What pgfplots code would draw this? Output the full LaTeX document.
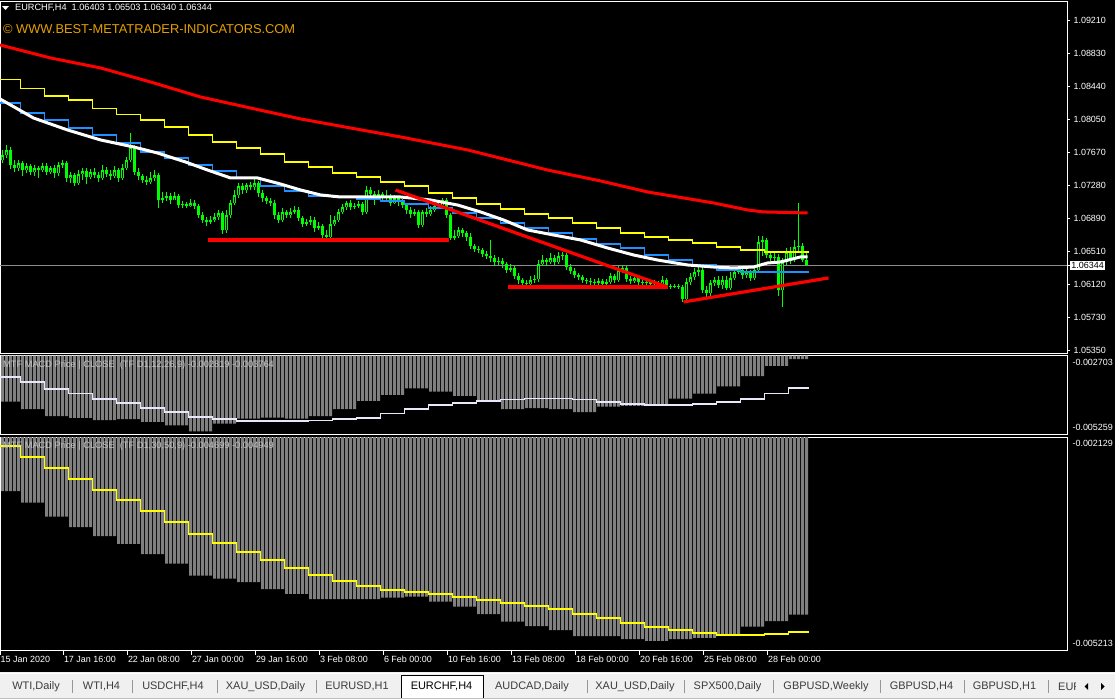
\documentclass[border=0pt]{standalone}
\usepackage{fontspec}
\setmainfont{Liberation Sans}
\usepackage{pgfplots}
\usepackage{pgfplotstable}
\pgfplotsset{compat=1.18}

\definecolor{mtgreen}{RGB}{0,255,0}
\definecolor{mtred}{RGB}{255,0,0}
\definecolor{mtyellow}{RGB}{255,255,0}
\definecolor{mtblue}{RGB}{30,144,255}
\definecolor{mtorange}{RGB}{230,160,0}
\definecolor{histgray}{RGB}{128,128,128}
\definecolor{sigwhite}{RGB}{232,232,250}
\definecolor{pricegray}{RGB}{140,140,140}
\definecolor{tabbg}{RGB}{240,240,240}
\definecolor{tabtext}{RGB}{60,60,60}
\definecolor{tabsep}{RGB}{150,150,150}
\definecolor{labelgray}{RGB}{195,195,195}

% H4 bars: open high low close, MACD(12,26,9) and MACD(30,50,9) histograms
\pgfplotstableread{
i o h l c m1 m2
0 1.07578 1.07696 1.07543 1.07637 -0.004204 -0.002911
1 1.07637 1.07754 1.07602 1.07696 -0.004204 -0.002911
2 1.07696 1.07731 1.07473 1.07520 -0.004204 -0.002911
3 1.07520 1.07578 1.07438 1.07485 -0.004204 -0.002911
4 1.07485 1.07578 1.07450 1.07543 -0.004204 -0.002911
5 1.07543 1.07567 1.07391 1.07461 -0.004446 -0.003080
6 1.07461 1.07543 1.07426 1.07508 -0.004446 -0.003080
7 1.07508 1.07532 1.07403 1.07438 -0.004446 -0.003080
8 1.07438 1.07520 1.07391 1.07485 -0.004446 -0.003080
9 1.07485 1.07508 1.07368 1.07461 -0.004446 -0.003080
10 1.07461 1.07543 1.07438 1.07508 -0.004446 -0.003080
11 1.07508 1.07543 1.07403 1.07438 -0.004678 -0.003283
12 1.07438 1.07508 1.07415 1.07485 -0.004678 -0.003283
13 1.07485 1.07520 1.07368 1.07426 -0.004678 -0.003283
14 1.07426 1.07555 1.07391 1.07520 -0.004678 -0.003283
15 1.07520 1.07578 1.07485 1.07543 -0.004678 -0.003283
16 1.07543 1.07567 1.07321 1.07368 -0.004678 -0.003283
17 1.07368 1.07438 1.07309 1.07403 -0.004735 -0.003432
18 1.07403 1.07426 1.07274 1.07309 -0.004735 -0.003432
19 1.07309 1.07461 1.07286 1.07415 -0.004735 -0.003432
20 1.07415 1.07485 1.07344 1.07450 -0.004735 -0.003432
21 1.07450 1.07485 1.07297 1.07379 -0.004735 -0.003432
22 1.07379 1.07473 1.07356 1.07438 -0.004735 -0.003432
23 1.07438 1.07485 1.07368 1.07403 -0.004811 -0.003563
24 1.07403 1.07438 1.07321 1.07368 -0.004811 -0.003563
25 1.07368 1.07520 1.07344 1.07461 -0.004811 -0.003563
26 1.07461 1.07496 1.07379 1.07415 -0.004811 -0.003563
27 1.07415 1.07461 1.07344 1.07391 -0.004811 -0.003563
28 1.07391 1.07508 1.07368 1.07461 -0.004811 -0.003563
29 1.07461 1.07485 1.07321 1.07368 -0.004778 -0.003678
30 1.07368 1.07532 1.07344 1.07485 -0.004778 -0.003678
31 1.07485 1.07614 1.07461 1.07578 -0.004778 -0.003678
32 1.07578 1.07895 1.07555 1.07731 -0.004778 -0.003678
33 1.07731 1.07754 1.07403 1.07438 -0.004778 -0.003678
34 1.07438 1.07485 1.07344 1.07391 -0.004778 -0.003678
35 1.07391 1.07415 1.07309 1.07344 -0.004868 -0.003823
36 1.07344 1.07391 1.07286 1.07321 -0.004868 -0.003823
37 1.07321 1.07438 1.07297 1.07368 -0.004868 -0.003823
38 1.07368 1.07461 1.07333 1.07403 -0.004868 -0.003823
39 1.07403 1.07426 1.07016 1.07110 -0.004868 -0.003823
40 1.07110 1.07204 1.07075 1.07133 -0.004868 -0.003823
41 1.07133 1.07204 1.07098 1.07157 -0.004977 -0.003964
42 1.07157 1.07192 1.07063 1.07110 -0.004977 -0.003964
43 1.07110 1.07204 1.07110 1.07157 -0.004977 -0.003964
44 1.07157 1.07180 1.07016 1.07051 -0.004977 -0.003964
45 1.07051 1.07098 1.07016 1.07063 -0.004977 -0.003964
46 1.07063 1.07087 1.07016 1.07040 -0.004977 -0.003964
47 1.07040 1.07122 1.07028 1.07075 -0.005176 -0.004137
48 1.07075 1.07110 1.07005 1.07040 -0.005176 -0.004137
49 1.07040 1.07063 1.06899 1.06934 -0.005176 -0.004137
50 1.06934 1.06970 1.06841 1.06876 -0.005176 -0.004137
51 1.06876 1.06911 1.06806 1.06852 -0.005176 -0.004137
52 1.06852 1.06923 1.06829 1.06876 -0.005176 -0.004137
53 1.06876 1.06958 1.06852 1.06911 -0.004921 -0.004181
54 1.06911 1.06993 1.06876 1.06958 -0.004921 -0.004181
55 1.06958 1.06981 1.06712 1.06759 -0.004921 -0.004181
56 1.06759 1.06993 1.06724 1.06934 -0.004921 -0.004181
57 1.06934 1.07110 1.06899 1.07075 -0.004921 -0.004181
58 1.07075 1.07227 1.07051 1.07169 -0.004921 -0.004181
59 1.07169 1.07309 1.07133 1.07274 -0.004755 -0.004229
60 1.07274 1.07309 1.07180 1.07227 -0.004755 -0.004229
61 1.07227 1.07309 1.07192 1.07286 -0.004755 -0.004229
62 1.07286 1.07321 1.07227 1.07262 -0.004755 -0.004229
63 1.07262 1.07368 1.07227 1.07309 -0.004755 -0.004229
64 1.07309 1.07333 1.07145 1.07192 -0.004755 -0.004229
65 1.07192 1.07227 1.07087 1.07133 -0.004728 -0.004330
66 1.07133 1.07157 1.07063 1.07098 -0.004728 -0.004330
67 1.07098 1.07133 1.07040 1.07075 -0.004728 -0.004330
68 1.07075 1.07110 1.06888 1.06934 -0.004728 -0.004330
69 1.06934 1.06970 1.06841 1.06876 -0.004728 -0.004330
70 1.06876 1.07016 1.06852 1.06970 -0.004728 -0.004330
71 1.06970 1.06993 1.06899 1.06934 -0.004755 -0.004402
72 1.06934 1.07016 1.06899 1.06970 -0.004755 -0.004402
73 1.06970 1.07040 1.06946 1.06993 -0.004755 -0.004402
74 1.06993 1.07028 1.06864 1.06899 -0.004755 -0.004402
75 1.06899 1.06923 1.06794 1.06829 -0.004755 -0.004402
76 1.06829 1.06888 1.06806 1.06852 -0.004755 -0.004402
77 1.06852 1.06923 1.06817 1.06876 -0.004678 -0.004475
78 1.06876 1.06911 1.06735 1.06782 -0.004678 -0.004475
79 1.06782 1.06852 1.06759 1.06806 -0.004678 -0.004475
80 1.06806 1.06829 1.06665 1.06700 -0.004678 -0.004475
81 1.06700 1.06759 1.06653 1.06677 -0.004678 -0.004475
82 1.06677 1.06934 1.06653 1.06829 -0.004678 -0.004475
83 1.06829 1.06923 1.06806 1.06876 -0.004446 -0.004475
84 1.06876 1.07005 1.06852 1.06970 -0.004446 -0.004475
85 1.06970 1.07063 1.06946 1.07028 -0.004446 -0.004475
86 1.07028 1.07098 1.06993 1.07075 -0.004446 -0.004475
87 1.07075 1.07110 1.06993 1.07028 -0.004446 -0.004475
88 1.07028 1.07075 1.07005 1.07040 -0.004446 -0.004475
89 1.07040 1.07098 1.07016 1.07063 -0.004180 -0.004475
90 1.07063 1.07087 1.06934 1.06970 -0.004180 -0.004475
91 1.06970 1.07274 1.06946 1.07227 -0.004180 -0.004475
92 1.07227 1.07262 1.07145 1.07180 -0.004180 -0.004475
93 1.07180 1.07215 1.07051 1.07145 -0.004180 -0.004475
94 1.07145 1.07227 1.07110 1.07180 -0.004180 -0.004475
95 1.07180 1.07204 1.07098 1.07133 -0.003981 -0.004456
96 1.07133 1.07227 1.07110 1.07157 -0.003981 -0.004456
97 1.07157 1.07180 1.07040 1.07075 -0.003981 -0.004456
98 1.07075 1.07169 1.07063 1.07133 -0.003981 -0.004456
99 1.07133 1.07157 1.07040 1.07087 -0.003981 -0.004456
100 1.07087 1.07122 1.07016 1.07051 -0.003981 -0.004456
101 1.07051 1.07075 1.06946 1.06993 -0.003772 -0.004441
102 1.06993 1.07028 1.06899 1.06946 -0.003772 -0.004441
103 1.06946 1.07005 1.06923 1.06970 -0.003772 -0.004441
104 1.06970 1.06993 1.06782 1.06817 -0.003772 -0.004441
105 1.06817 1.06993 1.06794 1.06970 -0.003772 -0.004441
106 1.06970 1.07016 1.06911 1.06946 -0.003772 -0.004441
107 1.06946 1.07040 1.06923 1.06993 -0.003882 -0.004514
108 1.06993 1.07087 1.06970 1.07040 -0.003882 -0.004514
109 1.07040 1.07098 1.07005 1.07051 -0.003882 -0.004514
110 1.07051 1.07133 1.07016 1.07110 -0.003882 -0.004514
111 1.07110 1.07133 1.06899 1.06934 -0.003882 -0.004514
112 1.06934 1.06958 1.06642 1.06665 -0.003882 -0.004514
113 1.06665 1.06759 1.06642 1.06688 -0.004014 -0.004586
114 1.06688 1.06794 1.06665 1.06759 -0.004014 -0.004586
115 1.06759 1.06782 1.06677 1.06724 -0.004014 -0.004586
116 1.06724 1.06747 1.06630 1.06677 -0.004014 -0.004586
117 1.06677 1.06724 1.06536 1.06571 -0.004014 -0.004586
118 1.06571 1.06595 1.06501 1.06536 -0.004014 -0.004586
119 1.06536 1.06571 1.06489 1.06525 -0.004170 -0.004692
120 1.06525 1.06548 1.06443 1.06478 -0.004170 -0.004692
121 1.06478 1.06513 1.06419 1.06454 -0.004170 -0.004692
122 1.06454 1.06642 1.06384 1.06431 -0.004170 -0.004692
123 1.06431 1.06466 1.06337 1.06384 -0.004170 -0.004692
124 1.06384 1.06443 1.06349 1.06396 -0.004170 -0.004692
125 1.06396 1.06431 1.06314 1.06361 -0.004446 -0.004803
126 1.06361 1.06384 1.06255 1.06290 -0.004446 -0.004803
127 1.06290 1.06361 1.06267 1.06314 -0.004446 -0.004803
128 1.06314 1.06337 1.06185 1.06220 -0.004446 -0.004803
129 1.06220 1.06255 1.06126 1.06173 -0.004446 -0.004803
130 1.06173 1.06197 1.06103 1.06138 -0.004446 -0.004803
131 1.06138 1.06173 1.06091 1.06126 -0.004413 -0.004866
132 1.06126 1.06220 1.06091 1.06173 -0.004413 -0.004866
133 1.06173 1.06232 1.06138 1.06185 -0.004413 -0.004866
134 1.06185 1.06407 1.06150 1.06361 -0.004413 -0.004866
135 1.06361 1.06466 1.06337 1.06407 -0.004413 -0.004866
136 1.06407 1.06431 1.06337 1.06384 -0.004413 -0.004866
137 1.06384 1.06489 1.06361 1.06431 -0.004446 -0.004924
138 1.06431 1.06466 1.06349 1.06384 -0.004446 -0.004924
139 1.06384 1.06501 1.06361 1.06454 -0.004446 -0.004924
140 1.06454 1.06501 1.06407 1.06466 -0.004446 -0.004924
141 1.06466 1.06489 1.06290 1.06325 -0.004446 -0.004924
142 1.06325 1.06361 1.06244 1.06279 -0.004446 -0.004924
143 1.06279 1.06314 1.06197 1.06232 -0.004546 -0.005011
144 1.06232 1.06255 1.06173 1.06208 -0.004546 -0.005011
145 1.06208 1.06232 1.06138 1.06173 -0.004546 -0.005011
146 1.06173 1.06197 1.06126 1.06162 -0.004546 -0.005011
147 1.06162 1.06197 1.06115 1.06150 -0.004546 -0.005011
148 1.06150 1.06185 1.06103 1.06138 -0.004546 -0.005011
149 1.06138 1.06197 1.06115 1.06162 -0.004370 -0.005011
150 1.06162 1.06185 1.06091 1.06126 -0.004370 -0.005011
151 1.06126 1.06185 1.06103 1.06150 -0.004370 -0.005011
152 1.06150 1.06255 1.06126 1.06220 -0.004370 -0.005011
153 1.06220 1.06244 1.06138 1.06173 -0.004370 -0.005011
154 1.06173 1.06337 1.06150 1.06290 -0.004370 -0.005011
155 1.06290 1.06349 1.06255 1.06314 -0.004346 -0.005054
156 1.06314 1.06337 1.06150 1.06185 -0.004346 -0.005054
157 1.06185 1.06220 1.06126 1.06162 -0.004346 -0.005054
158 1.06162 1.06244 1.06138 1.06197 -0.004346 -0.005054
159 1.06197 1.06220 1.06115 1.06150 -0.004346 -0.005054
160 1.06150 1.06185 1.06103 1.06138 -0.004346 -0.005054
161 1.06138 1.06185 1.06115 1.06150 -0.004303 -0.005079
162 1.06150 1.06173 1.06103 1.06126 -0.004303 -0.005079
163 1.06126 1.06173 1.06103 1.06138 -0.004303 -0.005079
164 1.06138 1.06162 1.06091 1.06126 -0.004303 -0.005079
165 1.06126 1.06220 1.06103 1.06173 -0.004303 -0.005079
166 1.06173 1.06197 1.06068 1.06103 -0.004303 -0.005079
167 1.06103 1.06126 1.06068 1.06091 -0.004104 -0.005054
168 1.06091 1.06126 1.06080 1.06103 -0.004104 -0.005054
169 1.06103 1.06126 1.06068 1.06091 -0.004104 -0.005054
170 1.06091 1.06115 1.05916 1.05951 -0.004104 -0.005054
171 1.05951 1.06197 1.05927 1.06150 -0.004104 -0.005054
172 1.06150 1.06255 1.06115 1.06208 -0.004104 -0.005054
173 1.06208 1.06314 1.06173 1.06267 -0.003948 -0.005039
174 1.06267 1.06337 1.06220 1.06290 -0.003948 -0.005039
175 1.06290 1.06325 1.06021 1.06056 -0.003948 -0.005039
176 1.06056 1.06103 1.05974 1.06021 -0.003948 -0.005039
177 1.06021 1.06173 1.05986 1.06138 -0.003948 -0.005039
178 1.06138 1.06208 1.06103 1.06173 -0.003948 -0.005039
179 1.06173 1.06220 1.06080 1.06115 -0.003706 -0.004982
180 1.06115 1.06220 1.06068 1.06173 -0.003706 -0.004982
181 1.06173 1.06220 1.06056 1.06080 -0.003706 -0.004982
182 1.06080 1.06267 1.06056 1.06197 -0.003706 -0.004982
183 1.06197 1.06314 1.06173 1.06267 -0.003706 -0.004982
184 1.06267 1.06337 1.06244 1.06290 -0.003706 -0.004982
185 1.06290 1.06314 1.06185 1.06232 -0.003374 -0.004876
186 1.06232 1.06314 1.06197 1.06267 -0.003374 -0.004876
187 1.06267 1.06290 1.06162 1.06197 -0.003374 -0.004876
188 1.06197 1.06337 1.06173 1.06290 -0.003374 -0.004876
189 1.06290 1.06688 1.06267 1.06618 -0.003374 -0.004876
190 1.06618 1.06688 1.06454 1.06642 -0.003374 -0.004876
191 1.06642 1.06665 1.06431 1.06466 -0.003042 -0.004793
192 1.06466 1.06501 1.06396 1.06431 -0.003042 -0.004793
193 1.06431 1.06489 1.06384 1.06443 -0.003042 -0.004793
194 1.06443 1.06478 1.05986 1.06056 -0.003042 -0.004793
195 1.06056 1.06431 1.05857 1.06384 -0.003042 -0.004793
196 1.06384 1.06548 1.06349 1.06501 -0.003042 -0.004793
197 1.06501 1.06560 1.06361 1.06407 -0.002819 -0.004699
198 1.06407 1.06642 1.06384 1.06560 -0.002819 -0.004699
199 1.06560 1.07075 1.06501 1.06571 -0.002819 -0.004699
200 1.06571 1.06607 1.06384 1.06403 -0.002819 -0.004699
201 1.06403 1.06503 1.06340 1.06344 -0.002819 -0.004699
}\bars

% daily (higher timeframe) values: two stepped MAs and both MACD signal lines
\pgfplotstableread{
x yel blu s1 s2
-0.625 1.08524 1.08246 -0.003407 -0.002259
4.5 1.08418 1.08129 -0.003573 -0.002414
10.5 1.08328 1.08047 -0.003782 -0.002574
16.5 1.08281 1.07953 -0.003938 -0.002737
22.5 1.08184 1.07872 -0.004114 -0.002896
28.5 1.08114 1.07778 -0.004237 -0.003041
34.5 1.08047 1.07672 -0.004403 -0.003196
40.5 1.07965 1.07602 -0.004536 -0.003355
46.5 1.07872 1.07520 -0.004712 -0.003534
52.5 1.07790 1.07450 -0.004778 -0.003660
58.5 1.07719 1.07368 -0.004844 -0.003790
64.5 1.07649 1.07274 -0.004844 -0.003906
70.5 1.07555 1.07215 -0.004844 -0.004022
76.5 1.07497 1.07157 -0.004821 -0.004127
82.5 1.07426 1.07145 -0.004778 -0.004214
88.5 1.07379 1.07122 -0.004735 -0.004287
94.5 1.07321 1.07098 -0.004589 -0.004344
100.5 1.07274 1.07063 -0.004436 -0.004373
106.5 1.07192 1.07016 -0.004303 -0.004402
112.5 1.07133 1.06958 -0.004237 -0.004441
118.5 1.07063 1.06899 -0.004180 -0.004489
124.5 1.07005 1.06841 -0.004137 -0.004528
130.5 1.06946 1.06782 -0.004104 -0.004572
136.5 1.06899 1.06724 -0.004104 -0.004620
142.5 1.06841 1.06653 -0.004137 -0.004688
148.5 1.06782 1.06595 -0.004204 -0.004750
154.5 1.06724 1.06548 -0.004270 -0.004818
160.5 1.06677 1.06466 -0.004303 -0.004880
166.5 1.06642 1.06407 -0.004303 -0.004924
172.5 1.06607 1.06349 -0.004290 -0.004963
178.5 1.06560 1.06290 -0.004204 -0.004992
184.5 1.06525 1.06267 -0.004114 -0.004992
190.5 1.06501 1.06267 -0.003938 -0.004977
196.5 1.06501 1.06267 -0.003764 -0.004949
201.5 1.06501 1.06267 -0.003764 -0.004949
}\days

\pgfplotsset{
  mtpanel/.style={
    scale only axis, width=1067bp, xmin=-0.625, xmax=266.125,
    anchor=north west,
    axis line style={white, line width=1bp},
    every tick/.style={white, line width=1bp},
    tick align=outside,
    ytick pos=right, yticklabel pos=right,
    xtick=\empty,
    scaled y ticks=false, scaled x ticks=false,
    tick label style={white, font=\fontsize{9}{10}\selectfont},
    /pgf/number format/assume math mode=true,
  },
  % candle strokes drawn as error bars; the marks themselves are hidden
  candle/.style 2 args={only marks, mark=*, mark size=0pt,
    mark options={draw=none, fill=none},
    error bars/.cd, y dir=both, y explicit, error mark=none,
    error bar style={draw=#1, line width=#2, line cap=butt}},
}

\begin{document}
\begin{tikzpicture}
\fill[black] (0,0) rectangle (1115bp,-699bp);

% price chart
\begin{axis}[mtpanel, at={(0bp,-1bp)}, height=352bp,
  ymin=1.05318, ymax=1.09440,
  ytick={1.05350,1.05730,1.06120,1.06510,1.06890,1.07280,1.07670,1.08050,1.08440,1.08830,1.09210},
  y tick label style={/pgf/number format/fixed, /pgf/number format/fixed zerofill,
    /pgf/number format/precision=5},
  major tick length=3bp,
  extra y ticks={1.06344},
  extra y tick style={grid=major, major grid style={pricegray, line width=1bp},
    y tick label style={fill=white, text=black, inner sep=1.2pt}},
]
% wicks
\addplot[candle={mtgreen}{1bp}]
  table[x=i, y=c, y error plus expr={\thisrow{h}-\thisrow{c}},
        y error minus expr={\thisrow{c}-\thisrow{l}}] {\bars};
% bodies
\addplot[candle={mtgreen}{3bp}]
  table[x=i, y=c, y error plus expr={max(0,\thisrow{o}-\thisrow{c})},
        y error minus expr={max(0,\thisrow{c}-\thisrow{o})}] {\bars};
% hollow inside of rising candles
\addplot[candle={black}{1bp}]
  table[x=i, y=o, y error plus expr={max(0,\thisrow{c}-\thisrow{o}-0.00024)},
        y error minus expr={0}] {\bars};

% moving averages
\addplot[const plot, mtyellow, line width=1.2bp] table[x=x, y=yel] {\days};
\addplot[const plot, mtblue, line width=1.2bp] table[x=x, y=blu] {\days};
\addplot[mtred, line width=3bp] coordinates {
  (-0.625,1.08925) (12,1.08773) (24.5,1.08656) (37,1.08492) (49.5,1.08316)
  (62,1.08187) (74.5,1.08059) (87,1.07953) (99.5,1.07848) (116.25,1.07696)
  (136.25,1.07461) (149.5,1.07333) (161.25,1.07204) (177.75,1.07075)
  (186.25,1.06993) (190.25,1.06970) (201.25,1.06958)};
\addplot[white, line width=3bp] coordinates {
  (-0.625,1.08293) (7.75,1.08070) (16.25,1.07930) (24.5,1.07813) (32.75,1.07731)
  (38.75,1.07660) (45.75,1.07555) (51.25,1.07461) (57,1.07368) (63.75,1.07368)
  (69.5,1.07297) (74.5,1.07227) (79.5,1.07169) (84.5,1.07145) (99.5,1.07145)
  (107,1.07110) (113.75,1.07051) (119.5,1.06970) (125.25,1.06876) (131.25,1.06759)
  (137.75,1.06700) (144.5,1.06642) (151.25,1.06548) (157.75,1.06466) (163.75,1.06407)
  (171.25,1.06349) (177.75,1.06325) (182.75,1.06314) (187.75,1.06325) (191.25,1.06372)
  (194.5,1.06384) (199.5,1.06443) (201.25,1.06443)};

% drawn trend lines
\addplot[mtred, line width=3.2bp] coordinates {(51.25,1.06642) (111.5,1.06642)};
\addplot[mtred, line width=3.2bp] coordinates {(98.25,1.07227) (166.25,1.06091)};
\addplot[mtred, line width=3.2bp] coordinates {(126.25,1.06091) (166.25,1.06091)};
\addplot[mtred, line width=3.2bp] coordinates {(170.25,1.05916) (206.5,1.06197)};
\end{axis}

% MACD 12,26,9
\begin{axis}[mtpanel, at={(0bp,-355.5bp)}, height=78.5bp,
  ymin=-0.005259, ymax=-0.002703,
  ytick={-0.002703}, extra y ticks={-0.005259},
  major tick length=0bp,
  y tick label style={anchor=north west, xshift=2bp,
    /pgf/number format/fixed, /pgf/number format/fixed zerofill,
    /pgf/number format/precision=6},
  extra y tick style={y tick label style={anchor=south west}},
]
\addplot[ybar, bar width=0.75, fill=histgray, draw=none] table[x=i, y=m1] {\bars};
\addplot[const plot, sigwhite, line width=1.8bp] table[x=x, y=s1] {\days};
\end{axis}

% MACD 30,50,9
\begin{axis}[mtpanel, at={(0bp,-437bp)}, height=213bp,
  ymin=-0.005213, ymax=-0.002129,
  ytick={-0.002129}, extra y ticks={-0.005213},
  y tick label style={anchor=north west, xshift=-3bp,
    /pgf/number format/fixed, /pgf/number format/fixed zerofill,
    /pgf/number format/precision=6},
  extra y tick style={y tick label style={anchor=south west}},
  y tick style={draw=none},
  major tick length=5bp,
  xtick pos=bottom,
  xtick={-0.625,15.2,31.2,47.2,63.2,79.2,95.2,111.2,127.2,143.2,159.2,175.2,191.2},
  xticklabels={15 Jan 2020,17 Jan 16:00,22 Jan 08:00,27 Jan 00:00,29 Jan 16:00,3 Feb 08:00,
    6 Feb 00:00,10 Feb 16:00,13 Feb 08:00,18 Feb 00:00,20 Feb 16:00,25 Feb 08:00,28 Feb 00:00},
  x tick label style={anchor=north west, inner sep=0pt, xshift=0.5bp, yshift=-1bp},
]
\addplot[ybar, bar width=0.75, fill=histgray, draw=none] table[x=i, y=m2] {\bars};
\addplot[const plot, mtyellow, line width=1.8bp] table[x=x, y=s2] {\days};
\end{axis}

% header texts
\fill[white] (2bp,-6bp) -- (9bp,-6bp) -- (5.5bp,-10bp) -- cycle;
\node[anchor=west, inner sep=0pt, text=white, font=\fontsize{9.2}{10}\selectfont]
  at (15bp,-8.3bp) {EURCHF,H4\ \ 1.06403 1.06503 1.06340 1.06344};
\node[anchor=west, inner sep=0pt, text=mtorange, font=\fontsize{12.9}{14}\selectfont]
  at (3bp,-29.3bp) {© WWW.BEST-METATRADER-INDICATORS.COM};
\node[anchor=west, inner sep=0pt, text=labelgray, font=\fontsize{9.3}{10}\selectfont]
  at (3bp,-365bp) {MTF MACD Price | CLOSE\ \ (TF D1,12,26,9) -0.002819 -0.003764};
\node[anchor=west, inner sep=0pt, text=labelgray, font=\fontsize{9.3}{10}\selectfont]
  at (3bp,-445.7bp) {MTF MACD Price | CLOSE\ \ (TF D1,30,50,9) -0.004699 -0.004949};

% tab bar
\fill[tabbg] (0,-672bp) rectangle (1115bp,-699bp);
\draw[white, line width=1bp] (0,-673bp) -- (1115bp,-673bp);
\draw[black!25, line width=1bp] (0,-698.5bp) -- (1115bp,-698.5bp);
\filldraw[fill=white, draw=black, line width=1bp]
  (401bp,-698bp) -- (401bp,-675.5bp) -- (483bp,-675.5bp) -- (483bp,-698bp);
\foreach \sx in {72.5,132,217,316,587,684,773,880,964,1048}
  \draw[tabsep, line width=1bp] (\sx bp,-680bp) -- (\sx bp,-693bp);
\begin{scope}[every node/.style={inner sep=0pt, text=tabtext, font=\fontsize{11}{12}\selectfont}]
\node at (36bp,-686.5bp) {WTI,Daily};
\node at (101.5bp,-686.5bp) {WTI,H4};
\node at (173bp,-686.5bp) {USDCHF,H4};
\node at (265.5bp,-686.5bp) {XAU\_USD,Daily};
\node at (357bp,-686.5bp) {EURUSD,H1};
\node[text=black] at (441.5bp,-686.5bp) {EURCHF,H4};
\node at (532bp,-686.5bp) {AUDCAD,Daily};
\node at (635bp,-686.5bp) {XAU\_USD,Daily};
\node at (727.5bp,-686.5bp) {SPX500,Daily};
\node at (826bp,-686.5bp) {GBPUSD,Weekly};
\node at (921.5bp,-686.5bp) {GBPUSD,H4};
\node at (1004.5bp,-686.5bp) {GBPUSD,H1};
\end{scope}
\begin{scope}
\clip (1050bp,-675bp) rectangle (1075bp,-697bp);
\node[anchor=west, inner sep=0pt, text=tabtext, font=\fontsize{11}{12}\selectfont]
  at (1058bp,-686.5bp) {EUR};
\end{scope}
\fill[black] (1088bp,-683bp) -- (1084.5bp,-686.5bp) -- (1088bp,-690bp) -- cycle;
\fill[black] (1101bp,-683bp) -- (1104.5bp,-686.5bp) -- (1101bp,-690bp) -- cycle;

\pgfresetboundingbox
\useasboundingbox (0,0) rectangle (1115bp,-699bp);
\end{tikzpicture}
\end{document}
